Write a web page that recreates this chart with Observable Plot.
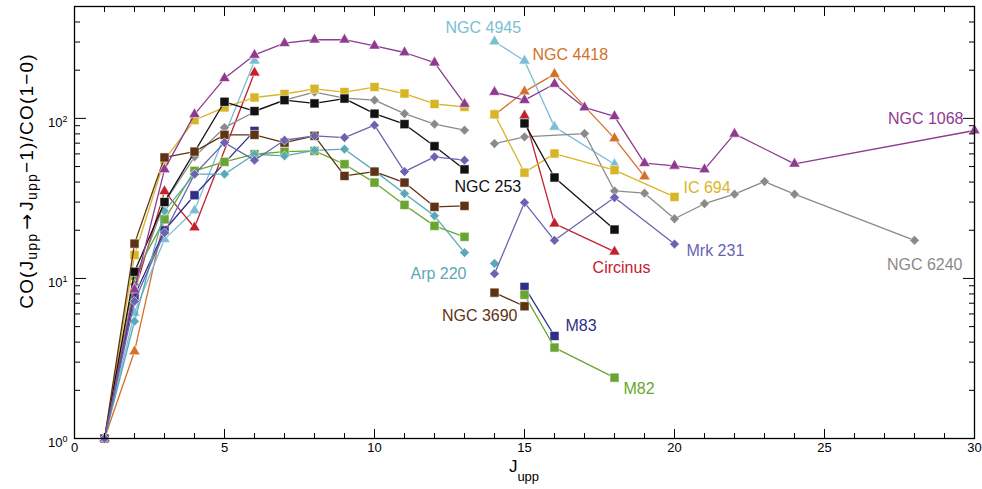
<!DOCTYPE html>
<html>
<head>
<meta charset="utf-8">
<script src="https://cdn.jsdelivr.net/npm/d3@7"></script>
<script src="https://cdn.jsdelivr.net/npm/@observablehq/plot@0.6"></script>
<style>
  html, body { margin: 0; padding: 0; background: #fff; }
  #chart svg { font-family: "Liberation Sans", Arial, Helvetica, sans-serif; }
</style>
</head>
<body>
<div id="chart"></div>
<script>
// ---- Data ----
const J_ngc4418 = [1, 2, 3, 14, 15, 16, 18, 19];
const R_ngc4418 = [1, 3.5, 24, 105, 147, 189, 75, 43.3];

const J_ngc4945 = [1, 2, 3, 4, 6, 14, 15, 16, 18];
const R_ngc4945 = [1, 6.1, 17.6, 26.6, 229, 302, 229, 88.5, 51.7];

const J_circinus = [1, 2, 3, 4, 6, 15, 16, 18];
const R_circinus = [1, 8.2, 35, 20.8, 193, 104, 22, 14.7];

const J_m83 = [1, 2, 3, 4, 6, 15, 16];
const R_m83 = [1, 7.8, 20, 33.1, 83.5, 8.85, 4.37];

const J_m82 = [1, 2, 3, 4, 5, 6, 7, 8, 9, 10, 11, 12, 13, 15, 16, 18];
const R_m82 = [1, 10.4, 23.4, 47, 53.5, 59.7, 62, 62.6, 51.7, 39.7, 28.8, 21.3, 18.2, 7.9, 3.7, 2.4];

const J_arp220 = [1, 2, 3, 4, 5, 6, 7, 8, 9, 10, 11, 12, 13, 14];
const R_arp220 = [1, 5.4, 26.4, 44.8, 44.8, 59.7, 58.3, 63.2, 64.2, 47, 33.9, 24.6, 14.5, 12.4];

const J_ngc6240 = [1, 2, 3, 4, 5, 6, 7, 8, 9, 10, 11, 12, 13, 14, 15, 17, 18, 19, 20, 21, 22, 23, 24, 28];
const R_ngc6240 = [1, 9.2, 29.8, 57.5, 87.6, 110, 130, 146, 134, 130, 107, 92, 84.4, 69.6, 76.6, 80.4, 35.2, 34.1, 23.6, 29.3, 33.6, 40.3, 33.6, 17.3];

const J_ic694 = [1, 2, 3, 4, 5, 6, 7, 8, 9, 10, 11, 12, 13, 14, 15, 16, 18, 20];
const R_ic694 = [1, 14, 55, 97.5, 117, 135, 142, 153, 146, 157, 143, 123, 118, 106, 45.8, 60.3, 47.5, 32.3];

const J_ngc253 = [1, 2, 3, 5, 6, 7, 8, 9, 10, 11, 12, 13, 15, 16, 18];
const R_ngc253 = [1, 11, 30, 127, 111, 130, 124, 133, 107, 92, 67, 48, 93, 42.7, 20.2];

const J_ngc3690 = [1, 2, 3, 4, 5, 6, 7, 8, 9, 10, 11, 12, 13, 14, 15];
const R_ngc3690 = [1, 16.5, 57, 62, 78.9, 78.9, 70.6, 77.8, 43.7, 46.5, 39.7, 28, 28.4, 8.15, 6.7];

const J_ngc1068 = [1, 2, 3, 4, 5, 6, 7, 8, 9, 10, 11, 12, 13, 14, 15, 16, 17, 18, 19, 20, 21, 22, 24, 30];
const R_ngc1068 = [1, 8.5, 48, 106, 178, 249, 295, 310, 310, 284, 258, 223, 123, 146, 130, 164, 117, 103, 52.5, 50.5, 48, 80, 52, 84];

const J_mrk231 = [1, 2, 3, 4, 5, 6, 7, 8, 9, 10, 11, 12, 13, 14, 15, 16, 18, 20];
const R_mrk231 = [1, 7.2, 19.3, 44.8, 70.6, 54.8, 73, 77.8, 75.9, 90.7, 46.5, 57.5, 54.8, 10.7, 29.8, 17.3, 32, 16.4];

const galaxyNames = ["NGC 4418", "NGC 4945", "Circinus", "M83", "M82", "Arp 220",
                     "NGC 6240", "IC 694", "NGC 253", "NGC 3690", "NGC 1068", "Mrk 231"];
const xTickLabels = [0, 5, 10, 15, 20, 25, 30];
const yTickLabels = [1, 10, 100];

// ---- Styles ----
const series = [
  {name: "NGC 4418", J: J_ngc4418, R: R_ngc4418, color: "#d2712a", symbol: "triangle"},
  {name: "NGC 4945", J: J_ngc4945, R: R_ngc4945, color: "#7cbdd6", symbol: "triangle"},
  {name: "Circinus", J: J_circinus, R: R_circinus, color: "#c4202b", symbol: "triangle"},
  {name: "M83",      J: J_m83,      R: R_m83,      color: "#2f2f87", symbol: "square"},
  {name: "M82",      J: J_m82,      R: R_m82,      color: "#69a630", symbol: "square"},
  {name: "Arp 220",  J: J_arp220,   R: R_arp220,   color: "#5aa9b6", symbol: "diamond2"},
  {name: "NGC 6240", J: J_ngc6240,  R: R_ngc6240,  color: "#8a8a8a", symbol: "diamond2"},
  {name: "IC 694",   J: J_ic694,    R: R_ic694,    color: "#d8b526", symbol: "square"},
  {name: "NGC 253",  J: J_ngc253,   R: R_ngc253,   color: "#111111", symbol: "square"},
  {name: "NGC 3690", J: J_ngc3690,  R: R_ngc3690,  color: "#5e3313", symbol: "square"},
  {name: "NGC 1068", J: J_ngc1068,  R: R_ngc1068,  color: "#8e3b8f", symbol: "triangle"},
  {name: "Mrk 231",  J: J_mrk231,   R: R_mrk231,   color: "#6a64b0", symbol: "diamond2"}
];
const symbolR = {triangle: 4.2, square: 5.1, diamond2: 4.4};

// label placement: anchored to one point of the series, offset in pixels
const labelSpec = [
  {name: "NGC 4945", at: 14, dx: -49, dy: -14, anchor: "start"},
  {name: "NGC 4418", at: 15, dx: 8,   dy: -37, anchor: "start"},
  {name: "NGC 253",  at: 13, dx: -10, dy: 17,  anchor: "start"},
  {name: "Arp 220",  at: 14, dx: -28, dy: 10,  anchor: "end"},
  {name: "NGC 3690", at: 15, dx: -7,  dy: 10,  anchor: "end"},
  {name: "M83",      at: 16, dx: 11,  dy: -10, anchor: "start"},
  {name: "M82",      at: 18, dx: 9,   dy: 11,  anchor: "start"},
  {name: "Circinus", at: 18, dx: 7,   dy: 16,  anchor: "middle"},
  {name: "Mrk 231",  at: 20, dx: 12,  dy: 7,   anchor: "start"},
  {name: "IC 694",   at: 20, dx: 9,   dy: -9,  anchor: "start"},
  {name: "NGC 1068", at: 30, dx: -11, dy: -12, anchor: "end"},
  {name: "NGC 6240", at: 28, dx: 48,  dy: 25,  anchor: "end"}
];

// rows, split into the two observed J ranges (lines do not bridge 13 -> 14)
const rowsOf = s => s.J.map((j, i) => ({name: s.name, J: j, R: s.R[i], seg: j <= 13 ? "low" : "high"}));

const marks = [];
for (const s of series) {
  const rows = rowsOf(s);
  marks.push(Plot.line(rows, {x: "J", y: "R", z: "seg", stroke: s.color, strokeWidth: 1.3}));
  marks.push(Plot.dot(rows, {x: "J", y: "R", symbol: () => s.symbol, r: symbolR[s.symbol],
    fill: s.color, stroke: "white", strokeWidth: 0.7, strokeOpacity: 0.8}));
}
for (const l of labelSpec) {
  const s = series.find(d => d.name === l.name);
  const i = s.J.indexOf(l.at);
  marks.push(Plot.text([{J: s.J[i], R: s.R[i], t: s.name}], {
    x: "J", y: "R", text: "t", dx: l.dx, dy: l.dy, textAnchor: l.anchor,
    fill: s.color, fontSize: 16
  }));
}

const xMinor = d3.range(0, 31);
const yMinor = [];
for (const p of [1, 10, 100]) for (let k = 2; k <= 9; k++) if (k * p <= 500) yMinor.push(k * p);

const noText = () => "";
marks.push(
  Plot.frame({stroke: "black", strokeWidth: 1.3}),
  Plot.axisX({anchor: "bottom", ticks: xMinor, tickSize: -5, tickFormat: noText, label: null, strokeWidth: 1}),
  Plot.axisX({anchor: "top", ticks: xMinor, tickSize: -5, tickFormat: noText, label: null, strokeWidth: 1}),
  Plot.axisX({anchor: "bottom", ticks: xTickLabels, tickSize: -9, tickFormat: noText, label: null, strokeWidth: 1}),
  Plot.axisX({anchor: "top", ticks: xTickLabels, tickSize: -9, tickFormat: noText, label: null, strokeWidth: 1}),
  Plot.axisX({anchor: "bottom", ticks: xTickLabels, tickSize: 0, tickPadding: 4, fontSize: 13, label: null}),
  Plot.axisY({anchor: "left", ticks: yMinor, tickSize: -6, tickFormat: noText, label: null, strokeWidth: 1}),
  Plot.axisY({anchor: "right", ticks: yMinor, tickSize: -6, tickFormat: noText, label: null, strokeWidth: 1}),
  Plot.axisY({anchor: "left", ticks: yTickLabels, tickSize: -12, tickFormat: noText, label: null, strokeWidth: 1}),
  Plot.axisY({anchor: "right", ticks: yTickLabels, tickSize: -12, tickFormat: noText, label: null, strokeWidth: 1}),
  Plot.axisY({anchor: "left", ticks: yTickLabels, tickSize: 0, tickPadding: 7, dy: 4, fontSize: 13,
    tickFormat: d => "10^" + Math.round(Math.log10(d)), label: null})
);

const chart = Plot.plot({
  width: 982,
  height: 489,
  marginLeft: 74,
  marginRight: 8,
  marginTop: 6,
  marginBottom: 51,
  x: {domain: [0, 30]},
  y: {type: "log", domain: [1, 500]},
  style: {fontFamily: '"Liberation Sans", Arial, sans-serif', background: "white", color: "black"},
  marks
});
document.getElementById("chart").appendChild(chart);

// superscript exponents on the y tick labels
const svg = d3.select(chart);
svg.selectAll("text").each(function () {
  const t = d3.select(this);
  const m = /^10\^(\d)$/.exec(t.text());
  if (m) {
    t.text("");
    t.append("tspan").text("10");
    t.append("tspan").attr("dy", "-0.55em").attr("font-size", "9px").text(m[1]);
  }
});

// axis titles with subscripts
const yl = svg.append("text")
  .attr("transform", "translate(33,181) rotate(-90)")
  .attr("text-anchor", "middle")
  .attr("font-size", 19)
  .attr("letter-spacing", "1.2px")
  .attr("fill", "black");
yl.append("tspan").text("CO(J");
yl.append("tspan").attr("font-size", 14).attr("dy", 4).text("upp");
yl.append("tspan").attr("dy", -4).attr("dx", 3).attr("font-family", '"DejaVu Sans", sans-serif')
  .attr("letter-spacing", "0px").text("\u2192");
yl.append("tspan").attr("dx", 3).text("J");
yl.append("tspan").attr("font-size", 14).attr("dy", 4).text("upp");
yl.append("tspan").attr("dy", -4).text("\u22121)/CO(1\u22120)");

const xl = svg.append("text")
  .attr("x", 524).attr("y", 472)
  .attr("text-anchor", "middle")
  .attr("font-size", 17)
  .attr("fill", "black");
xl.append("tspan").text("J");
xl.append("tspan").attr("font-size", 13).attr("dy", 9).text("upp");
</script>
</body>
</html>
